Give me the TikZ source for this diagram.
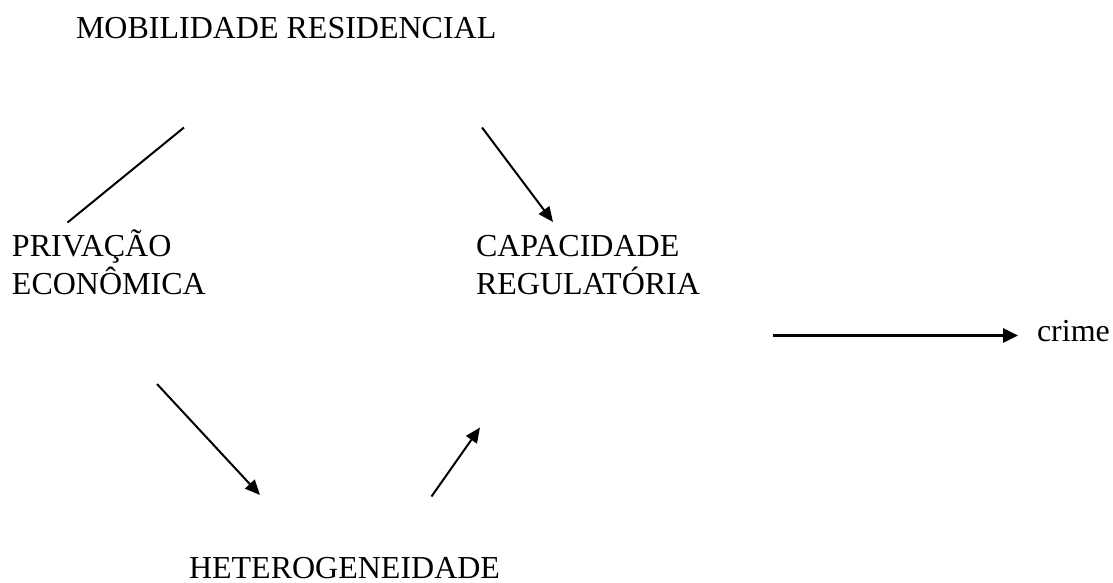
\documentclass[tikz,border=0pt]{standalone}
\usepackage{fontspec}
\setmainfont{Liberation Serif}
\usetikzlibrary{arrows.meta}
\begin{document}
\begin{tikzpicture}[x=1pt,y=-1pt,
  lbl/.style={inner sep=0pt,outer sep=0pt,anchor=base west,align=left,font=\fontsize{32}{37.5}\selectfont},
  link/.style={line width=2pt},
  arr/.style={line width=2pt,-{Triangle[length=15pt,width=13pt]}},
  thick arr/.style={line width=2.6pt,-{Triangle[length=15pt,width=14pt]}}]
\useasboundingbox (0,0) rectangle (1113,583);
\node[lbl] (mob) at (76,39) {MOBILIDADE RESIDENCIAL};
\node[lbl] (priv) at (12,294) {PRIVAÇÃO\\ECONÔMICA};
\node[lbl] (cap) at (476,294) {CAPACIDADE\\REGULATÓRIA};
\node[lbl] (crime) at (1037,341) {crime};
\node[lbl,text depth=0pt] (het) at (189,578.5) {HETEROGENEIDADE};
\coordinate (a1) at (184,127.5);
\coordinate (a2) at (67.5,222.5);
\coordinate (b1) at (482,127.5);
\coordinate (b2) at (553,222);
\coordinate (c1) at (157,384);
\coordinate (c2) at (260,495);
\coordinate (d1) at (431.5,496.5);
\coordinate (d2) at (480,427.5);
\coordinate (e1) at (773,335.5);
\coordinate (e2) at (1018,335.5);
\draw[link] (a1) -- (a2);
\draw[arr] (b1) -- (b2);
\draw[arr] (c1) -- (c2);
\draw[arr] (d1) -- (d2);
\draw[thick arr] (e1) -- (e2);
\end{tikzpicture}
\end{document}
